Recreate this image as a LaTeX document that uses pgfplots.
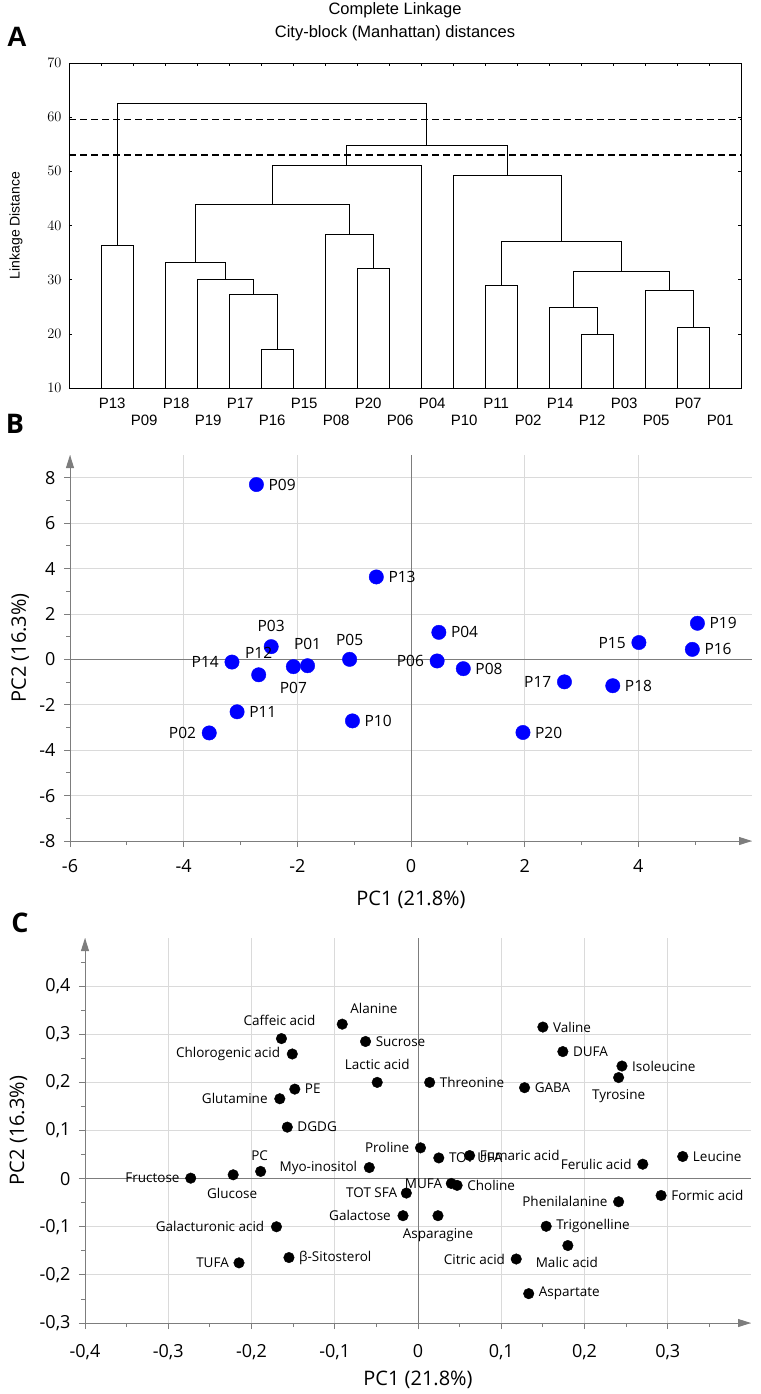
\documentclass[border=0pt]{standalone}
\usepackage{pgfplots}
\pgfplotsset{compat=1.18}
\usepackage{pgfplotstable}
\usepackage{fontspec}
\setmainfont{Liberation Sans}
\newfontfamily\seg{Open Sans}
\usetikzlibrary{arrows.meta}

\definecolor{gridgray}{RGB}{218,218,218}
\definecolor{axgray}{RGB}{125,125,125}
\definecolor{ptblue}{RGB}{0,0,255}

\pgfplotsset{
  lab/.style n args={2}{draw=none, mark=none, forget plot,
    nodes near coords, point meta=explicit symbolic,
    x filter/.expression={\thisrow{a}==#1 ? x : nan},
    visualization depends on={\thisrow{dx}\as\mydx},
    visualization depends on={\thisrow{dy}\as\mydy},
    every node near coord/.append style={anchor=#2, xshift=\mydx pt, yshift=\mydy pt,
      inner sep=0pt, text=black}},
}

\pgfplotstableread[col sep=comma]{
x,y,label,dy
1.35,10,P13,-10
2.35,10,P09,-27
3.35,10,P18,-10
4.35,10,P19,-27
5.35,10,P17,-10
6.35,10,P16,-27
7.35,10,P15,-10
8.35,10,P08,-27
9.35,10,P20,-10
10.35,10,P06,-27
11.35,10,P04,-10
12.35,10,P10,-27
13.35,10,P11,-10
14.35,10,P02,-27
15.35,10,P14,-10
16.35,10,P12,-27
17.35,10,P03,-10
18.35,10,P05,-27
19.35,10,P07,-10
20.35,10,P01,-27
}\leaves

% a: 1 = label right, 2 = left, 3 = above, 4 = below, 5 = above right
\pgfplotstableread[col sep=comma]{
x,y,label,a,dx,dy
-2.72,7.70,P09,1,12,0
-0.61,3.63,P13,1,12,0
-2.46,0.56,P03,3,0,15
-3.15,-0.12,P14,2,-13,0
-2.68,-0.68,P12,3,0,16
-2.07,-0.32,P07,4,0,-15
-1.82,-0.28,P01,3,0,16
-1.08,0.00,P05,3,0,14
-3.06,-2.31,P11,1,12,0
-3.55,-3.24,P02,2,-13,0
-1.03,-2.71,P10,1,12,0
0.49,1.19,P04,1,12,0
0.46,-0.07,P06,2,-13,0
0.92,-0.41,P08,1,12,0
2.70,-0.99,P17,2,-13,0
3.55,-1.16,P18,1,12,0
4.01,0.74,P15,2,-13,0
5.04,1.59,P19,1,12,0
4.95,0.44,P16,1,12,0
1.97,-3.22,P20,1,12,0
}\scores

\pgfplotstableread[col sep=comma]{
x,y,label,a,dx,dy
-0.164,0.291,Caffeic acid,3,-2,13
-0.151,0.259,Chlorogenic acid,2,-12,0
-0.091,0.321,Alanine,5,8,10
-0.063,0.285,Sucrose,1,10,0
-0.049,0.200,Lactic acid,3,0,13
-0.148,0.186,PE,1,10,0
-0.166,0.166,Glutamine,2,-12,0
0.014,0.200,Threonine,1,10,0
0.150,0.315,Valine,1,10,0
0.174,0.264,DUFA,1,10,0
0.245,0.234,Isoleucine,1,10,0
0.241,0.210,Tyrosine,4,0,-12
0.128,0.189,GABA,1,10,0
-0.157,0.107,DGDG,1,10,0
-0.189,0.015,PC,3,-1,11
-0.222,0.008,Glucose,4,-1,-13
-0.273,0.001,Fructose,2,-11,0
-0.0585,0.023,Myo-inositol,2,-12,0
-0.170,-0.100,Galacturonic acid,2,-12,0
-0.155,-0.164,β-Sitosterol,1,10,0
-0.215,-0.175,TUFA,2,-10,0
0.003,0.064,Proline,2,-11,0
0.025,0.043,TOT UFA,1,10,0
0.062,0.048,Fumaric acid,1,10,0
0.270,0.030,Ferulic acid,2,-11,0
0.318,0.046,Leucine,1,10,0
0.040,-0.010,MUFA,2,-9,0
0.047,-0.014,Choline,1,10,0
-0.014,-0.030,TOT SFA,2,-9,0
-0.018,-0.077,Galactose,2,-12,0
0.024,-0.077,Asparagine,4,0,-13
0.241,-0.048,Phenilalanine,2,-11,0
0.292,-0.035,Formic acid,1,10,0
0.154,-0.099,Trigonelline,1,10,0
0.180,-0.139,Malic acid,4,-1,-12
0.118,-0.167,Citric acid,2,-11,0
0.133,-0.239,Aspartate,1,10,0
}\loadings

\begin{document}
\begin{tikzpicture}
\useasboundingbox (0pt,0pt) rectangle (760pt,-1394pt);

% ---------------- Panel A ----------------
\node[font=\bfseries\fontsize{28}{30}\selectfont] at (17pt,-37pt) {A};
\begin{axis}[
  at={(69pt,-388pt)}, anchor=south west,
  scale only axis, width=672pt, height=325pt,
  xmin=0, xmax=21, ymin=10, ymax=70,
  xtick={1,...,20}, xticklabels={},
  ytick={10,20,...,70},
  tick align=inside, major tick length=3pt,
  every tick/.style={black, line width=0.6pt},
  axis line style={black, line width=0.7pt},
  tick label style={font=\fontsize{15}{17}\selectfont},
  yticklabel style={xshift=-4pt},
  title={Complete Linkage\\City-block (Manhattan) distances},
  title style={at={(0.5,1)}, anchor=south, xshift=-10pt, yshift=16pt, inner sep=0pt,
    align=center, font=\fontsize{16.5}{23}\selectfont},
  ylabel={Linkage Distance},
  ylabel style={at={(axis description cs:-0.079,0.5)}, anchor=center,
    font=\fontsize{14}{16}\selectfont},
  clip=false,
]
\pgfplotsset{dendro/.style={black, line width=0.8pt, mark=none}}
\addplot[dendro] coordinates {(1,10)(1,36.4)(2,36.4)(2,10)};
\addplot[dendro] coordinates {(6,10)(6,17.2)(7,17.2)(7,10)};
\addplot[dendro] coordinates {(5,10)(5,27.3)(6.5,27.3)(6.5,17.2)};
\addplot[dendro] coordinates {(4,10)(4,30.1)(5.75,30.1)(5.75,27.3)};
\addplot[dendro] coordinates {(3,10)(3,33.1)(4.875,33.1)(4.875,30.1)};
\addplot[dendro] coordinates {(9,10)(9,32.0)(10,32.0)(10,10)};
\addplot[dendro] coordinates {(8,10)(8,38.4)(9.5,38.4)(9.5,32.0)};
\addplot[dendro] coordinates {(3.9375,33.1)(3.9375,43.9)(8.75,43.9)(8.75,38.4)};
\addplot[dendro] coordinates {(6.34375,43.9)(6.34375,51.1)(11,51.1)(11,10)};
\addplot[dendro] coordinates {(13,10)(13,29.0)(14,29.0)(14,10)};
\addplot[dendro] coordinates {(16,10)(16,19.9)(17,19.9)(17,10)};
\addplot[dendro] coordinates {(15,10)(15,24.9)(16.5,24.9)(16.5,19.9)};
\addplot[dendro] coordinates {(19,10)(19,21.1)(20,21.1)(20,10)};
\addplot[dendro] coordinates {(18,10)(18,28.1)(19.5,28.1)(19.5,21.1)};
\addplot[dendro] coordinates {(15.75,24.9)(15.75,31.5)(18.75,31.5)(18.75,28.1)};
\addplot[dendro] coordinates {(13.5,29.0)(13.5,37.0)(17.25,37.0)(17.25,31.5)};
\addplot[dendro] coordinates {(12,10)(12,49.2)(15.375,49.2)(15.375,37.0)};
\addplot[dendro] coordinates {(8.671875,51.1)(8.671875,54.7)(13.6875,54.7)(13.6875,49.2)};
\addplot[dendro] coordinates {(1.5,36.4)(1.5,62.5)(11.1797,62.5)(11.1797,54.7)};
\addplot[black, line width=1.4pt, dash pattern=on 7pt off 4pt, mark=none] coordinates {(0,59.6)(21,59.6)};
\addplot[black, line width=1.4pt, dash pattern=on 7pt off 4pt, mark=none] coordinates {(0,53.0)(21,53.0)};
\addplot[draw=none, mark=none, nodes near coords, point meta=explicit symbolic,
  visualization depends on={\thisrow{dy}\as\mydy},
  every node near coord/.append style={anchor=north, yshift=\mydy pt, inner sep=0pt,
    font=\fontsize{15}{17}\selectfont}]
  table[x=x, y=y, meta=label] {\leaves};
\end{axis}

% ---------------- Panel B ----------------
\node[font=\seg\bfseries\fontsize{27}{29}\selectfont] at (15pt,-424pt) {B};
\begin{axis}[
  at={(70pt,-841pt)}, anchor=south west,
  scale only axis, width=682pt, height=386pt,
  xmin=-6, xmax=6, ymin=-8, ymax=9,
  axis lines=left,
  axis line style={draw=axgray, line width=0.9pt, -{Triangle[length=13pt,width=8pt]}},
  every tick/.style={draw=axgray, line width=0.8pt},
  tick align=outside, major tick length=6pt, minor tick length=4pt,
  xtick={-6,-4,-2,0,2,4}, xticklabels={-6,-4,-2,0,2,4},
  minor xtick={-5,-3,-1,1,3,5},
  ytick={-8,-6,-4,-2,0,2,4,6,8}, yticklabels={-8,-6,-4,-2,0,2,4,6,8},
  minor ytick={-7,-5,-3,-1,1,3,5,7},
  grid=major, major grid style={draw=gridgray, line width=0.8pt},
  extra x ticks={0}, extra x tick labels={}, extra y ticks={0}, extra y tick labels={},
  extra tick style={major grid style={draw=axgray, line width=0.9pt}},
  tick label style={font=\seg\fontsize{18}{20}\selectfont},
  xticklabel style={yshift=-9pt}, yticklabel style={xshift=-5pt},
  xlabel={PC1 (21.8\%)}, ylabel={PC2 (16.3\%)},
  label style={font=\seg\fontsize{20}{22}\selectfont},
  xlabel style={at={(axis description cs:0.5,-0.153)}, anchor=center},
  ylabel style={at={(axis description cs:-0.073,0.5)}, anchor=center},
  clip=false,
]
\addplot[only marks, mark=*, mark size=7.2pt, color=ptblue]
  table[x=x, y=y] {\scores};
\pgfplotsset{every node near coord/.append style={font=\seg\fontsize{15.5}{17}\selectfont}}
\addplot[lab={1}{west}] table[x=x, y=y, meta=label] {\scores};
\addplot[lab={2}{east}] table[x=x, y=y, meta=label] {\scores};
\addplot[lab={3}{south}] table[x=x, y=y, meta=label] {\scores};
\addplot[lab={4}{north}] table[x=x, y=y, meta=label] {\scores};
\end{axis}

% ---------------- Panel C ----------------
\node[font=\seg\bfseries\fontsize{27}{29}\selectfont] at (20pt,-923pt) {C};
\begin{axis}[
  at={(85pt,-1323pt)}, anchor=south west,
  scale only axis, width=666pt, height=385pt,
  xmin=-0.4, xmax=0.4, ymin=-0.3, ymax=0.5,
  axis lines=left,
  axis line style={draw=axgray, line width=0.9pt, -{Triangle[length=13pt,width=8pt]}},
  every tick/.style={draw=axgray, line width=0.8pt},
  tick align=outside, major tick length=6pt, minor tick length=4pt,
  xtick={-0.4,-0.3,-0.2,-0.1,0,0.1,0.2,0.3},
  xticklabels={{-0,4},{-0,3},{-0,2},{-0,1},0,{0,1},{0,2},{0,3}},
  minor xtick={-0.35,-0.25,-0.15,-0.05,0.05,0.15,0.25,0.35},
  ytick={-0.3,-0.2,-0.1,0,0.1,0.2,0.3,0.4},
  yticklabels={{-0,3},{-0,2},{-0,1},0,{0,1},{0,2},{0,3},{0,4}},
  minor ytick={-0.25,-0.15,-0.05,0.05,0.15,0.25,0.35,0.45},
  grid=major, major grid style={draw=gridgray, line width=0.8pt},
  extra x ticks={0}, extra x tick labels={}, extra y ticks={0}, extra y tick labels={},
  extra tick style={major grid style={draw=axgray, line width=0.9pt}},
  tick label style={font=\seg\fontsize{18}{20}\selectfont},
  xticklabel style={yshift=-12pt}, yticklabel style={xshift=-5pt},
  xlabel={PC1 (21.8\%)}, ylabel={PC2 (16.3\%)},
  label style={font=\seg\fontsize{20}{22}\selectfont},
  xlabel style={at={(axis description cs:0.5,-0.148)}, anchor=center},
  ylabel style={at={(axis description cs:-0.100,0.5)}, anchor=center},
  clip=false,
]
\addplot[only marks, mark=*, mark size=5.3pt, color=black]
  table[x=x, y=y] {\loadings};
\pgfplotsset{every node near coord/.append style={font=\seg\fontsize{13.5}{15}\selectfont}}
\addplot[lab={1}{west}] table[x=x, y=y, meta=label] {\loadings};
\addplot[lab={2}{east}] table[x=x, y=y, meta=label] {\loadings};
\addplot[lab={3}{south}] table[x=x, y=y, meta=label] {\loadings};
\addplot[lab={4}{north}] table[x=x, y=y, meta=label] {\loadings};
\addplot[lab={5}{south west}] table[x=x, y=y, meta=label] {\loadings};
\end{axis}
\end{tikzpicture}
\end{document}
